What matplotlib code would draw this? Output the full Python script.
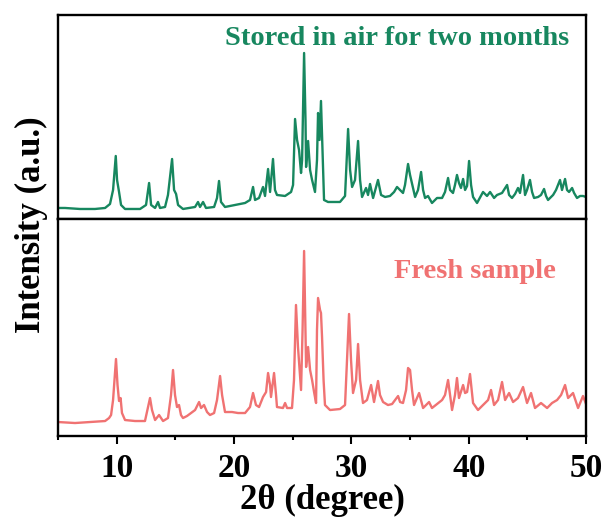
import numpy as np
import matplotlib
matplotlib.use("Agg")
import matplotlib.pyplot as plt
from matplotlib.ticker import MultipleLocator

# XRD patterns (2theta in degree, intensity in a.u.)
aged_2theta = [5.00, 5.60, 6.87, 8.15, 9.01, 9.43, 9.69, 9.92, 10.03, 10.20, 10.37, 10.71,
               11.99, 12.50, 12.76, 12.93, 13.27, 13.52, 13.69, 14.12, 14.37, 14.72, 14.89,
               15.06, 15.23, 15.65, 16.68, 16.93, 17.10, 17.36, 17.61, 18.30, 18.55, 18.72,
               18.89, 19.23, 20.09, 20.94, 21.36, 21.62, 21.79, 22.13, 22.47, 22.64, 22.90,
               23.07, 23.32, 23.49, 23.66, 24.35, 24.86, 25.03, 25.20, 25.37, 25.54, 25.71,
               25.80, 25.97, 26.09, 26.14, 26.31, 26.48, 26.65, 26.90, 27.07, 27.16, 27.29,
               27.41, 27.54, 27.67, 28.01, 29.03, 29.46, 29.72, 29.89, 30.06, 30.31, 30.57,
               30.74, 30.91, 31.25, 31.42, 31.59, 31.85, 32.27, 32.53, 32.87, 33.29, 33.64,
               33.89, 34.15, 34.40, 34.57, 34.83, 35.00, 35.43, 35.68, 35.94, 36.11, 36.28,
               36.53, 36.87, 37.30, 37.73, 37.98, 38.24, 38.41, 38.66, 38.83, 39.00, 39.17,
               39.34, 39.52, 39.69, 39.86, 40.03, 40.20, 40.37, 40.71, 41.22, 41.56, 41.82,
               42.16, 42.41, 42.84, 43.27, 43.44, 43.69, 43.95, 44.20, 44.37, 44.63, 44.80,
               44.97, 45.22, 45.40, 45.57, 45.91, 46.16, 46.42, 46.59, 46.76, 47.19, 47.44,
               47.78, 47.95, 48.21, 48.38, 48.55, 48.81, 48.98, 49.23, 49.49, 49.74, 50.00]
aged_int = [11, 11, 10, 10, 11, 15, 29, 63, 39, 27, 14, 10,
            10, 14, 36, 14, 11, 17, 11, 12, 24, 60, 29,
            25, 14, 10, 12, 17, 12, 17, 11, 12, 21, 38,
            17, 12, 14, 16, 19, 32, 19, 21, 32, 23, 50,
            27, 60, 29, 24, 23, 27, 34, 100, 79, 69, 46,
            59, 166, 99, 52, 78, 49, 39, 27, 59, 106, 79,
            118, 69, 19, 17, 17, 23, 90, 49, 32, 39, 78,
            39, 22, 31, 24, 35, 21, 39, 24, 22, 23, 27,
            32, 29, 26, 34, 55, 44, 22, 29, 47, 29, 21,
            23, 16, 21, 21, 27, 41, 29, 26, 34, 44, 36,
            31, 40, 29, 33, 58, 34, 22, 16, 27, 23, 27,
            21, 24, 26, 34, 24, 21, 25, 31, 26, 44, 24,
            29, 39, 27, 21, 22, 24, 30, 23, 19, 24, 29,
            39, 29, 40, 29, 27, 31, 26, 21, 23, 23, 22]

fresh_2theta = [5.00, 6.45, 7.73, 9.01, 9.35, 9.52, 9.69, 9.94, 10.07, 10.20, 10.33, 10.45,
                10.71, 11.56, 12.41, 12.58, 12.84, 13.01, 13.27, 13.61, 13.95, 14.37, 14.63,
                14.80, 14.97, 15.14, 15.31, 15.48, 15.65, 15.99, 16.34, 16.68, 17.02, 17.19,
                17.44, 17.70, 17.95, 18.30, 18.55, 18.81, 18.98, 19.23, 19.83, 20.34, 20.94,
                21.36, 21.62, 21.87, 22.13, 22.47, 22.73, 22.90, 23.07, 23.15, 23.41, 23.58,
                23.66, 24.17, 24.35, 24.52, 24.94, 25.11, 25.28, 25.45, 25.71, 25.84, 25.97,
                26.09, 26.14, 26.31, 26.48, 26.65, 26.82, 26.99, 27.07, 27.16, 27.33, 27.41,
                27.50, 27.63, 27.75, 28.18, 29.03, 29.46, 29.63, 29.80, 29.97, 30.14, 30.40,
                30.57, 30.74, 30.99, 31.33, 31.68, 31.93, 32.27, 32.44, 32.70, 33.12, 33.47,
                33.72, 33.98, 34.15, 34.40, 34.66, 34.83, 35.00, 35.17, 35.34, 35.77, 36.11,
                36.62, 36.87, 37.30, 37.73, 37.98, 38.24, 38.41, 38.58, 38.83, 39.00, 39.17,
                39.52, 39.69, 39.86, 40.11, 40.37, 40.79, 41.22, 41.65, 41.90, 42.16, 42.50,
                42.84, 43.10, 43.44, 43.78, 44.20, 44.63, 44.97, 45.31, 45.65, 46.16, 46.68,
                47.10, 47.53, 47.87, 48.21, 48.47, 48.89, 49.32, 49.74, 50.00]
fresh_int = [14, 13, 14, 15, 18, 21, 36, 77, 51, 35, 38, 23,
             16, 15, 15, 24, 38, 26, 16, 21, 15, 18, 41,
             66, 41, 29, 31, 21, 18, 20, 23, 26, 34, 28,
             31, 24, 21, 23, 36, 60, 41, 24, 24, 23, 23,
             29, 43, 31, 29, 39, 44, 63, 51, 39, 63, 41,
             29, 28, 33, 28, 28, 56, 131, 89, 46, 106, 185,
             106, 69, 89, 66, 56, 44, 33, 106, 138, 126, 123,
             99, 56, 31, 26, 27, 31, 76, 122, 76, 43, 56,
             92, 56, 33, 36, 51, 34, 55, 41, 34, 31, 32,
             36, 40, 34, 33, 46, 68, 66, 46, 31, 43, 28,
             34, 28, 32, 36, 41, 56, 41, 26, 41, 58, 38,
             51, 43, 44, 62, 33, 26, 31, 36, 46, 31, 36,
             54, 36, 43, 34, 38, 49, 33, 43, 28, 33, 28,
             33, 36, 41, 51, 38, 43, 28, 40, 32]

green = "#17875f"
red = "#f07272"

plt.rcParams['font.family'] = 'Liberation Serif'
plt.rcParams['font.weight'] = 'bold'

fig = plt.figure(figsize=(6.07, 5.21), dpi=100)
ax1 = fig.add_axes([0.0956, 0.5797, 0.8699, 0.3915])
ax2 = fig.add_axes([0.0956, 0.1631, 0.8699, 0.4166])

ax1.plot(aged_2theta, aged_int, color=green, lw=1.7)
ax2.plot(fresh_2theta, fresh_int, color=red, lw=1.7)

ax1.set_ylim(0, 204)
ax2.set_ylim(0, 217)

for ax in (ax1, ax2):
    ax.set_xlim(5, 50)
    ax.set_yticks([])
    for s in ax.spines.values():
        s.set_linewidth(1.7)

ax1.tick_params(axis='x', which='both', bottom=False, labelbottom=False)
ax2.xaxis.set_major_locator(MultipleLocator(10))
ax2.xaxis.set_minor_locator(MultipleLocator(5))
ax2.tick_params(axis='x', which='major', direction='out', length=6, width=1.5,
                labelsize=24, pad=6)
ax2.tick_params(axis='x', which='minor', direction='out', length=3, width=1.5)
for lab in ax2.get_xticklabels():
    lab.set_fontweight('bold')

ax2.set_xlabel("2θ (degree)", fontsize=25, fontweight='bold', labelpad=0)
fig.text(0.052, 0.568, "Intensity (a.u.)", rotation=90, fontsize=25,
         fontweight='bold', ha='center', va='center')

ax1.text(0.642, 0.887, "Stored in air for two months", transform=ax1.transAxes,
         color=green, fontsize=20.5, fontweight='bold', ha='center', va='center')
ax2.text(0.789, 0.756, "Fresh sample", transform=ax2.transAxes,
         color=red, fontsize=20.5, fontweight='bold', ha='center', va='center')

fig.savefig("out.png", dpi=100)
